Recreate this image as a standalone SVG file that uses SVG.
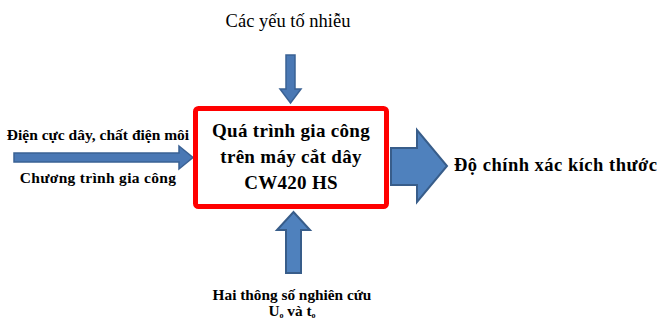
<svg xmlns="http://www.w3.org/2000/svg" width="659" height="322" viewBox="0 0 659 322">
<style>
.arr{fill:#4F81BD;stroke:#385D8A;stroke-width:2;stroke-linejoin:miter}
.thin{fill:#4A78B4;stroke:#3A6194;stroke-width:1.5}
.t{font-family:"Liberation Serif","Times New Roman",serif;fill:#000}
.b{font-weight:bold}
</style>
<rect width="659" height="322" fill="#fff"/>
<g id="connectors">
<path class="thin" d="M286,55 H295 V89 H301 L290.5,103 L280,89 H286 Z"/>
<path class="thin" d="M14,153 H179 V146 L193,157.5 L179,169 V162 H14 Z"/>
<path class="arr" d="M391,148 H417 V130 L447,166 L417,202 V185 H391 Z"/>
<path class="arr" d="M286,273 V230 H277 L293.5,212 L310,230 H301 V273 Z"/>
</g>
<g id="process">
<rect x="195.5" y="108.5" width="191" height="98" rx="3" fill="#fff" stroke="#FF0000" stroke-width="5"/>
<text class="t b" x="291" y="137" font-size="19" text-anchor="middle" letter-spacing="0.3">Quá trình gia công</text>
<text class="t b" x="291" y="163" font-size="19" text-anchor="middle" letter-spacing="0.3">trên máy cắt dây</text>
<text class="t b" x="291" y="189" font-size="19" text-anchor="middle" letter-spacing="0.3">CW420 HS</text>
</g>
<g id="noise">
<text class="t" x="288" y="27" font-size="18.5" text-anchor="middle">Các yếu tố nhiễu</text>
</g>
<g id="inputs">
<text class="t b" x="98" y="140" font-size="15.5" text-anchor="middle">Điện cực dây, chất điện môi</text>
<text class="t b" x="98" y="183" font-size="15.5" text-anchor="middle" letter-spacing="0.3">Chương trình gia công</text>
</g>
<g id="output">
<text class="t b" x="454" y="171" font-size="18.5" letter-spacing="0.5">Độ chính xác kích thước</text>
</g>
<g id="params">
<text class="t b" x="292" y="300" font-size="15.3" text-anchor="middle">Hai thông số nghiên cứu</text>
<text class="t b" x="292" y="316" font-size="15.3" text-anchor="middle">U<tspan font-size="8" dy="2">o</tspan><tspan dy="-2"> và t</tspan><tspan font-size="8" dy="2">o</tspan></text>
</g>
</svg>
